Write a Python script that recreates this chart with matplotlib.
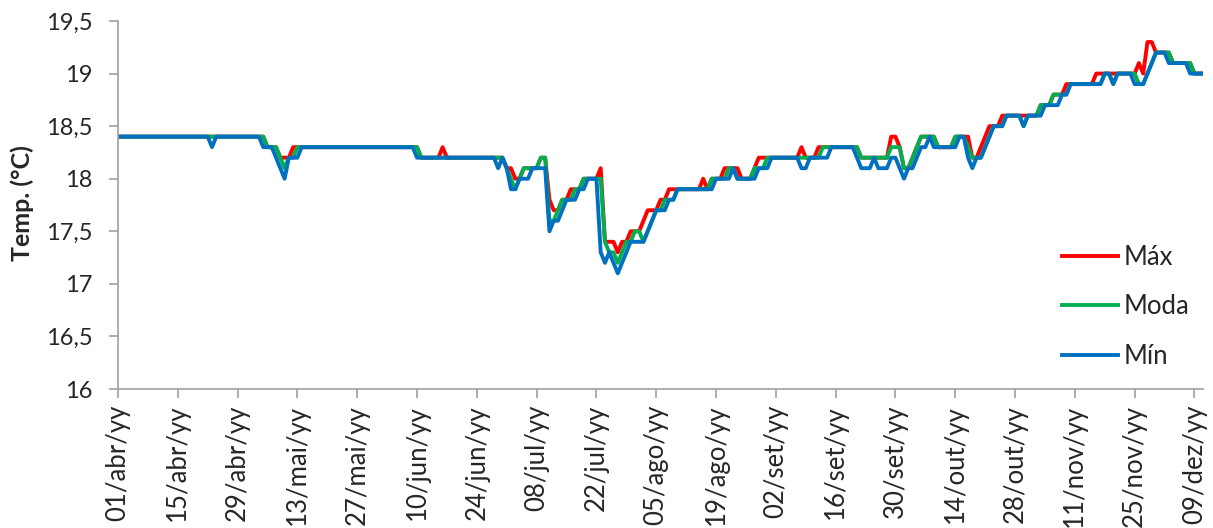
import matplotlib
matplotlib.use('Agg')
import matplotlib.pyplot as plt
from matplotlib.ticker import FuncFormatter
import numpy as np

# daily values, 01/abr .. 11/dez
t_max = [
    18.4, 18.4, 18.4, 18.4, 18.4, 18.4, 18.4, 18.4, 18.4, 18.4,
    18.4, 18.4, 18.4, 18.4, 18.4, 18.4, 18.4, 18.4, 18.4, 18.4,
    18.4, 18.4, 18.4, 18.4, 18.4, 18.4, 18.4, 18.4, 18.4, 18.4,
    18.4, 18.4, 18.4, 18.4, 18.4, 18.3, 18.3, 18.3, 18.2, 18.2,
    18.2, 18.3, 18.3, 18.3, 18.3, 18.3, 18.3, 18.3, 18.3, 18.3,
    18.3, 18.3, 18.3, 18.3, 18.3, 18.3, 18.3, 18.3, 18.3, 18.3,
    18.3, 18.3, 18.3, 18.3, 18.3, 18.3, 18.3, 18.3, 18.3, 18.3,
    18.3, 18.2, 18.2, 18.2, 18.2, 18.2, 18.3, 18.2, 18.2, 18.2,
    18.2, 18.2, 18.2, 18.2, 18.2, 18.2, 18.2, 18.2, 18.2, 18.2,
    18.2, 18.1, 18.1, 18.0, 18.0, 18.1, 18.1, 18.1, 18.1, 18.2,
    18.2, 17.8, 17.7, 17.7, 17.8, 17.8, 17.9, 17.9, 17.9, 18.0,
    18.0, 18.0, 18.0, 18.1, 17.4, 17.4, 17.4, 17.3, 17.4, 17.4,
    17.5, 17.5, 17.5, 17.6, 17.7, 17.7, 17.7, 17.8, 17.8, 17.9,
    17.9, 17.9, 17.9, 17.9, 17.9, 17.9, 17.9, 18.0, 17.9, 18.0,
    18.0, 18.0, 18.1, 18.1, 18.1, 18.1, 18.0, 18.0, 18.0, 18.1,
    18.2, 18.2, 18.2, 18.2, 18.2, 18.2, 18.2, 18.2, 18.2, 18.2,
    18.3, 18.2, 18.2, 18.2, 18.3, 18.3, 18.3, 18.3, 18.3, 18.3,
    18.3, 18.3, 18.3, 18.3, 18.2, 18.2, 18.2, 18.2, 18.2, 18.2,
    18.2, 18.4, 18.4, 18.3, 18.1, 18.1, 18.2, 18.3, 18.4, 18.4,
    18.4, 18.4, 18.3, 18.3, 18.3, 18.3, 18.4, 18.4, 18.4, 18.4,
    18.2, 18.2, 18.3, 18.4, 18.5, 18.5, 18.5, 18.6, 18.6, 18.6,
    18.6, 18.6, 18.6, 18.6, 18.6, 18.6, 18.7, 18.7, 18.7, 18.8,
    18.8, 18.8, 18.9, 18.9, 18.9, 18.9, 18.9, 18.9, 18.9, 19.0,
    19.0, 19.0, 19.0, 19.0, 19.0, 19.0, 19.0, 19.0, 19.0, 19.1,
    19.0, 19.3, 19.3, 19.2, 19.2, 19.2, 19.2, 19.1, 19.1, 19.1,
    19.1, 19.1, 19.0, 19.0, 19.0,
]

t_moda = [
    18.4, 18.4, 18.4, 18.4, 18.4, 18.4, 18.4, 18.4, 18.4, 18.4,
    18.4, 18.4, 18.4, 18.4, 18.4, 18.4, 18.4, 18.4, 18.4, 18.4,
    18.4, 18.4, 18.4, 18.4, 18.4, 18.4, 18.4, 18.4, 18.4, 18.4,
    18.4, 18.4, 18.4, 18.4, 18.4, 18.3, 18.3, 18.3, 18.2, 18.1,
    18.2, 18.2, 18.3, 18.3, 18.3, 18.3, 18.3, 18.3, 18.3, 18.3,
    18.3, 18.3, 18.3, 18.3, 18.3, 18.3, 18.3, 18.3, 18.3, 18.3,
    18.3, 18.3, 18.3, 18.3, 18.3, 18.3, 18.3, 18.3, 18.3, 18.3,
    18.3, 18.2, 18.2, 18.2, 18.2, 18.2, 18.2, 18.2, 18.2, 18.2,
    18.2, 18.2, 18.2, 18.2, 18.2, 18.2, 18.2, 18.2, 18.2, 18.2,
    18.2, 18.1, 18.0, 17.9, 18.0, 18.1, 18.1, 18.1, 18.1, 18.2,
    18.2, 17.6, 17.6, 17.7, 17.8, 17.8, 17.8, 17.9, 17.9, 18.0,
    18.0, 18.0, 18.0, 18.0, 17.4, 17.3, 17.3, 17.2, 17.3, 17.4,
    17.4, 17.5, 17.5, 17.4, 17.5, 17.6, 17.7, 17.7, 17.8, 17.8,
    17.8, 17.9, 17.9, 17.9, 17.9, 17.9, 17.9, 17.9, 17.9, 18.0,
    18.0, 18.0, 18.0, 18.1, 18.1, 18.0, 18.0, 18.0, 18.0, 18.1,
    18.1, 18.1, 18.2, 18.2, 18.2, 18.2, 18.2, 18.2, 18.2, 18.2,
    18.2, 18.2, 18.2, 18.2, 18.2, 18.3, 18.3, 18.3, 18.3, 18.3,
    18.3, 18.3, 18.3, 18.3, 18.2, 18.2, 18.2, 18.2, 18.2, 18.2,
    18.2, 18.3, 18.3, 18.3, 18.1, 18.1, 18.2, 18.3, 18.4, 18.4,
    18.4, 18.4, 18.3, 18.3, 18.3, 18.3, 18.4, 18.4, 18.4, 18.3,
    18.2, 18.2, 18.2, 18.3, 18.4, 18.5, 18.5, 18.5, 18.6, 18.6,
    18.6, 18.6, 18.5, 18.6, 18.6, 18.6, 18.7, 18.7, 18.7, 18.8,
    18.8, 18.8, 18.8, 18.9, 18.9, 18.9, 18.9, 18.9, 18.9, 18.9,
    18.9, 19.0, 19.0, 18.9, 19.0, 19.0, 19.0, 19.0, 19.0, 18.9,
    18.9, 19.0, 19.1, 19.2, 19.2, 19.2, 19.2, 19.1, 19.1, 19.1,
    19.1, 19.1, 19.0, 19.0, 19.0,
]

t_min = [
    18.4, 18.4, 18.4, 18.4, 18.4, 18.4, 18.4, 18.4, 18.4, 18.4,
    18.4, 18.4, 18.4, 18.4, 18.4, 18.4, 18.4, 18.4, 18.4, 18.4,
    18.4, 18.4, 18.3, 18.4, 18.4, 18.4, 18.4, 18.4, 18.4, 18.4,
    18.4, 18.4, 18.4, 18.4, 18.3, 18.3, 18.3, 18.2, 18.1, 18.0,
    18.2, 18.2, 18.2, 18.3, 18.3, 18.3, 18.3, 18.3, 18.3, 18.3,
    18.3, 18.3, 18.3, 18.3, 18.3, 18.3, 18.3, 18.3, 18.3, 18.3,
    18.3, 18.3, 18.3, 18.3, 18.3, 18.3, 18.3, 18.3, 18.3, 18.3,
    18.2, 18.2, 18.2, 18.2, 18.2, 18.2, 18.2, 18.2, 18.2, 18.2,
    18.2, 18.2, 18.2, 18.2, 18.2, 18.2, 18.2, 18.2, 18.2, 18.1,
    18.2, 18.1, 17.9, 17.9, 18.0, 18.0, 18.0, 18.1, 18.1, 18.1,
    18.1, 17.5, 17.6, 17.6, 17.7, 17.8, 17.8, 17.8, 17.9, 17.9,
    18.0, 18.0, 18.0, 17.3, 17.2, 17.3, 17.2, 17.1, 17.2, 17.3,
    17.4, 17.4, 17.4, 17.4, 17.5, 17.6, 17.7, 17.7, 17.7, 17.8,
    17.8, 17.9, 17.9, 17.9, 17.9, 17.9, 17.9, 17.9, 17.9, 17.9,
    18.0, 18.0, 18.0, 18.0, 18.1, 18.0, 18.0, 18.0, 18.0, 18.0,
    18.1, 18.1, 18.1, 18.2, 18.2, 18.2, 18.2, 18.2, 18.2, 18.2,
    18.1, 18.1, 18.2, 18.2, 18.2, 18.2, 18.2, 18.3, 18.3, 18.3,
    18.3, 18.3, 18.3, 18.2, 18.1, 18.1, 18.1, 18.2, 18.1, 18.1,
    18.1, 18.2, 18.2, 18.1, 18.0, 18.1, 18.1, 18.2, 18.3, 18.3,
    18.4, 18.3, 18.3, 18.3, 18.3, 18.3, 18.3, 18.4, 18.4, 18.2,
    18.1, 18.2, 18.2, 18.3, 18.4, 18.5, 18.5, 18.5, 18.6, 18.6,
    18.6, 18.6, 18.5, 18.6, 18.6, 18.6, 18.6, 18.7, 18.7, 18.7,
    18.7, 18.8, 18.8, 18.9, 18.9, 18.9, 18.9, 18.9, 18.9, 18.9,
    18.9, 19.0, 19.0, 18.9, 19.0, 19.0, 19.0, 19.0, 18.9, 18.9,
    18.9, 19.0, 19.1, 19.2, 19.2, 19.2, 19.1, 19.1, 19.1, 19.1,
    19.1, 19.0, 19.0, 19.0, 19.0,
]

tick_labels = ['01/abr/yy', '15/abr/yy', '29/abr/yy', '13/mai/yy', '27/mai/yy',
               '10/jun/yy', '24/jun/yy', '08/jul/yy', '22/jul/yy', '05/ago/yy',
               '19/ago/yy', '02/set/yy', '16/set/yy', '30/set/yy', '14/out/yy',
               '28/out/yy', '11/nov/yy', '25/nov/yy', '09/dez/yy']

plt.rcParams['font.family'] = ['Lato', 'DejaVu Sans']
fs = 17
txt = '#262626'
gray = '#A0A0A0'

dias = np.arange(len(t_min))

fig = plt.figure(figsize=(12.13, 5.28), dpi=100)
ax = fig.add_axes([118/1213, 1 - 389/528, (1203 - 118)/1213, (389 - 21)/528])

ax.plot(dias, t_max, color='#FF0000', lw=2.8, label='Máx')
ax.plot(dias, t_moda, color='#00B050', lw=2.8, label='Moda')
ax.plot(dias, t_min, color='#0070C0', lw=2.8, label='Mín')

ax.set_xlim(0, len(dias) - 1)
ax.set_ylim(16, 19.5)
ax.set_yticks(np.arange(16, 19.51, 0.5))
ax.yaxis.set_major_formatter(FuncFormatter(lambda v, p: f'{v:g}'.replace('.', ',')))
ax.set_xticks(np.arange(0, len(dias), 14))
ax.set_xticklabels(tick_labels, rotation=90)

for s in ['top', 'right']:
    ax.spines[s].set_visible(False)
for s in ['left', 'bottom']:
    ax.spines[s].set_color(gray)
    ax.spines[s].set_linewidth(1.2)
ax.tick_params(axis='y', direction='out', length=6.5, width=1.2, color=gray,
               labelsize=fs, labelcolor=txt, pad=12)
ax.tick_params(axis='x', direction='out', length=6.5, width=1.2, color=gray,
               labelsize=18.5, labelcolor=txt, pad=5)

fig.text(22/1213, 1 - 203/528, 'Temp. (°C)', rotation=90, ha='center', va='center',
         fontsize=18, fontweight='bold', color=txt)

ax.legend(loc='center left', bbox_to_anchor=(0.870, 0.223), frameon=False,
          fontsize=18.5, handlelength=2.2, handletextpad=0.2, labelspacing=0.96,
          borderpad=0, borderaxespad=0, labelcolor=txt)

fig.savefig('out.png', dpi=100)
